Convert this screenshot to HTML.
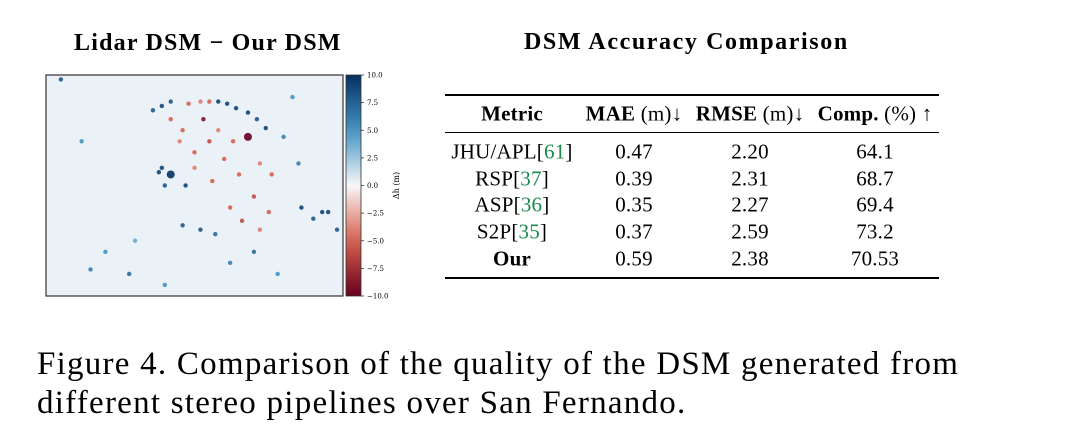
<!DOCTYPE html>
<html><head><meta charset="utf-8"><style>
body{margin:0;width:1070px;height:444px;background:#fff;position:relative;overflow:hidden;font-family:"Liberation Serif",serif;color:#000}
.t{position:absolute;white-space:nowrap}
.c{position:absolute;transform:translate(-50%,-50%);white-space:nowrap;font-size:21px;letter-spacing:0.2px}
.g{color:#1a8a4a}
.rule{position:absolute;left:445px;width:494px;background:#000}
</style></head><body>
<div class="t" style="left:74px;top:30px;font-size:24px;font-weight:bold;letter-spacing:1.2px">Lidar DSM − Our DSM</div>
<div class="t" style="left:524px;top:29px;font-size:24px;font-weight:bold;letter-spacing:1.6px">DSM Accuracy Comparison</div>
<svg id="hm" width="420" height="240" style="position:absolute;left:40px;top:65px"></svg>
<div class="rule" style="top:94px;height:2px"></div>
<div class="rule" style="top:132px;height:1px"></div>
<div class="rule" style="top:277px;height:2px"></div>
<div class="c" style="left:512px;top:114px;font-weight:bold">Metric</div>
<div class="c" style="left:634px;top:114px"><b>MAE</b> (m)↓</div>
<div class="c" style="left:750px;top:114px"><b>RMSE</b> (m)↓</div>
<div class="c" style="left:875px;top:114px"><b>Comp.</b> (%) ↑</div>
<div id="rows"></div>
<div class="t" style="left:37px;top:345px;font-size:33px;line-height:39px;letter-spacing:1.25px">Figure 4. Comparison of the quality of the DSM generated from<br>different stereo pipelines over San Fernando.</div>
<script>
const methods=["JHU/APL","RSP","ASP","S2P","Our"];
const refs=["61","37","36","35",""];
const mae=["0.47","0.39","0.35","0.37","0.59"];
const rmse=["2.20","2.31","2.27","2.59","2.38"];
const comp=["64.1","68.7","69.4","73.2","70.53"];
const cbTicks=[10,7.5,5,2.5,0,-2.5,-5,-7.5,-10];
// heatmap blobs: [xFrac, yFrac, dh]
const blobX=[0.36,0.39,0.42,0.48,0.52,0.55,0.58,0.61,0.64,0.68,0.71,0.74,0.8,0.83,0.45,0.5,0.55,0.6,0.65,0.7,0.75,0.53,0.58,0.63,0.68,0.72,0.42,0.46,0.5,0.56,0.62,0.66,0.72,0.76,0.39,0.42,0.38,0.4,0.46,0.52,0.57,0.86,0.9,0.93,0.15,0.28,0.47,0.05,0.12,0.2,0.3,0.62,0.7,0.78,0.95,0.98,0.85,0.4];
const blobY=[0.16,0.14,0.12,0.13,0.12,0.12,0.12,0.13,0.15,0.17,0.2,0.24,0.28,0.1,0.3,0.35,0.3,0.38,0.45,0.55,0.62,0.2,0.25,0.3,0.28,0.4,0.2,0.25,0.42,0.48,0.6,0.66,0.7,0.45,0.42,0.45,0.44,0.5,0.68,0.7,0.72,0.6,0.65,0.62,0.88,0.9,0.5,0.02,0.3,0.8,0.75,0.85,0.8,0.9,0.62,0.7,0.4,0.95];
const blobV=[8,9,8,-5,-4,-5,9,9,9,9,8,9,6,5,-4,-5,-6,-5,-5,-6,-5,-9,-4,-5,-10,-4,-5,-5,-4,-5,-5,-6,-4,-5,9,10,9,8,8,8,7,9,8,9,6,7,9,8,5,5,4,6,7,5,9,8,6,5];
const rows=document.getElementById('rows');
const y0=152,dy=26.5;
const cols=[512,634,750,875];
methods.forEach((m,i)=>{
  const vals=[m+(refs[i]?'[<span class="g">'+refs[i]+'</span>]':''),mae[i],rmse[i],comp[i]];
  vals.forEach((v,j)=>{
    const d=document.createElement('div');d.className='c';
    
    
    d.style.left=cols[j]+'px';d.style.top=(y0+i*dy+(i==4?1:0))+'px';
    if(i==4&&j==0)d.style.fontWeight='bold';
    d.innerHTML=v;rows.appendChild(d);
  });
});
const NS='http://www.w3.org/2000/svg';
const svg=document.getElementById('hm');
const X0=6,Y0=10,W=297,H=221,cbx=306,cbw=15;
function col(v){const t=Math.max(-1,Math.min(1,v/10));
  if(t>=0){const a=[247,247,247],b=[5,48,97],c=[67,147,195];
    const m=t<0.5?a.map((x,k)=>x+(c[k]-x)*t*2):c.map((x,k)=>x+(b[k]-x)*(t-0.5)*2);return 'rgb('+m.map(Math.round)+')';}
  else{const s=-t,a=[247,247,247],c=[214,96,77],b=[103,0,31];
    const m=s<0.5?a.map((x,k)=>x+(c[k]-x)*s*2):c.map((x,k)=>x+(b[k]-x)*(s-0.5)*2);return 'rgb('+m.map(Math.round)+')';}}
function el(t,a){const e=document.createElementNS(NS,t);for(const k in a)e.setAttribute(k,a[k]);svg.appendChild(e);return e;}
const bg=el('rect',{x:X0,y:Y0,width:W,height:H,fill:'#eaf1f7',stroke:'#333','stroke-width':1.2});

blobX.forEach((x,i)=>{
  const r=Math.abs(blobV[i])>=9.5?4:2.2;
  const c=el('circle',{cx:X0+x*W,cy:Y0+blobY[i]*H,r:r,fill:col(blobV[i]),opacity:0.9});
  
  
});
const defs=el('defs',{});
const lg=document.createElementNS(NS,'linearGradient');lg.setAttribute('id','cb');lg.setAttribute('x1',0);lg.setAttribute('y1',0);lg.setAttribute('x2',0);lg.setAttribute('y2',1);
for(let i=0;i<=10;i++){const s=document.createElementNS(NS,'stop');s.setAttribute('offset',i/10);s.setAttribute('stop-color',col(10-2*i));lg.appendChild(s);}
defs.appendChild(lg);
const cb=el('rect',{x:cbx,y:Y0,width:cbw,height:H,fill:'url(#cb)',stroke:'#333','stroke-width':0.8});

function cy(v){return Y0+(10-v)/20*H;}
cbTicks.forEach(v=>{
  el('line',{x1:cbx+cbw,x2:cbx+cbw+3,y1:cy(v),y2:cy(v),stroke:'#333','stroke-width':0.8});
  const t=el('text',{x:cbx+cbw+6,y:cy(v)+2.5,'font-size':7,'font-family':'DejaVu Serif, serif'});
  
  t.textContent=(v<0?'−':'')+Math.abs(v).toFixed(1);
});
const lab=el('text',{x:0,y:0,'font-size':8,'font-family':'DejaVu Serif, serif',transform:'translate('+(cbx+cbw+38)+','+(Y0+H/2)+') rotate(-90)','text-anchor':'middle'});

lab.textContent='Δh (m)';
</script>
</body></html>
